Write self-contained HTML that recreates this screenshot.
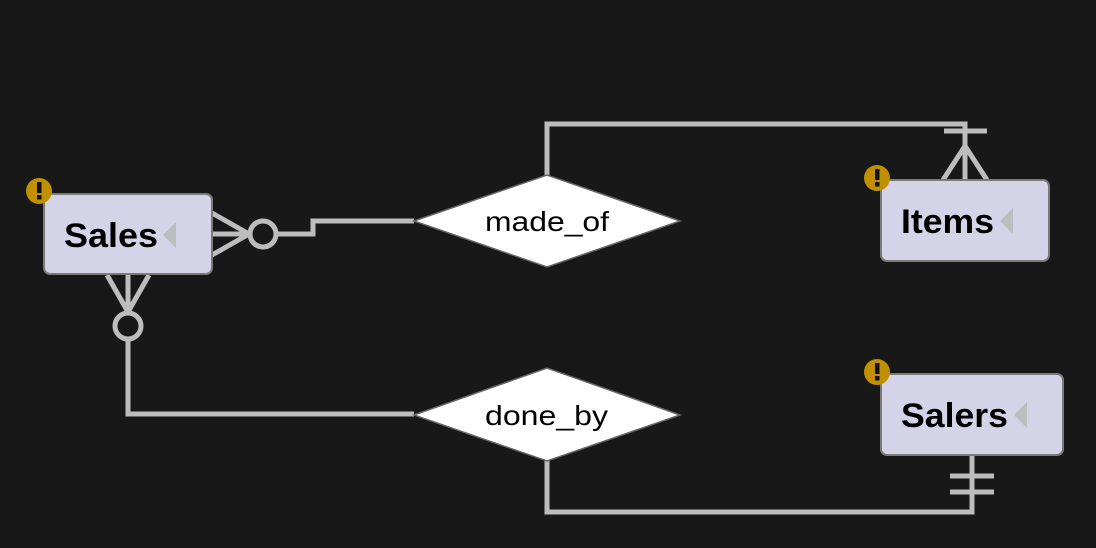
<!DOCTYPE html>
<html><head><style>body{margin:0;background:#181818}svg{display:block}</style></head><body>
<svg width="1096" height="548" xmlns="http://www.w3.org/2000/svg" font-family="Liberation Sans, sans-serif">
<rect width="1096" height="548" fill="#181818"/>
<g stroke="#bdbdbd" stroke-width="5" fill="none">
<polyline points="547,175 547,124 965,124 965,180"/>
<line x1="944" y1="131" x2="987" y2="131"/>
<line x1="965" y1="146" x2="943" y2="180"/><line x1="965" y1="146" x2="987" y2="180"/>
<polyline points="414,221 313,221 313,234 277,234"/>
<circle cx="263" cy="234" r="13"/>
<line x1="249" y1="234" x2="212" y2="213"/><line x1="249" y1="234" x2="212" y2="234"/><line x1="249" y1="234" x2="212" y2="255"/>
<polyline points="414,414 128,414 128,340"/>
<circle cx="128" cy="326" r="13"/>
<line x1="128" y1="312" x2="107" y2="275"/><line x1="128" y1="312" x2="128" y2="275"/><line x1="128" y1="312" x2="149" y2="275"/>
<polyline points="547,461 547,512 972,512 972,455"/>
<line x1="950" y1="476" x2="994" y2="476"/><line x1="950" y1="492" x2="994" y2="492"/>
</g>
<g fill="#d5d3e8" stroke="#7a7a7a" stroke-width="2">
<rect x="44" y="194" width="168" height="80" rx="6"/>
<rect x="881" y="180" width="168" height="81" rx="6"/>
<rect x="881" y="374" width="182" height="81" rx="6"/>
</g>
<g fill="#fff" stroke="#666" stroke-width="1.5">
<polygon points="414,221 547,175 680,221 547,267"/>
<polygon points="414,415 547,368 680,415 547,461"/>
</g>
<g font-size="34" fill="#000" font-weight="bold">
<text x="64" y="247" textLength="94" lengthAdjust="spacingAndGlyphs">Sales</text>
<text x="901" y="233" textLength="93" lengthAdjust="spacingAndGlyphs">Items</text>
<text x="901" y="427" textLength="107" lengthAdjust="spacingAndGlyphs">Salers</text>
</g>
<g fill="#bdbdbd">
<polygon points="176,222 163,235 176,248"/>
<polygon points="1013,208 1000,221 1013,234"/>
<polygon points="1027,402 1014,415 1027,428"/>
</g>
<g font-size="28" fill="#000">
<text x="485" y="231" textLength="124" lengthAdjust="spacingAndGlyphs">made_of</text>
<text x="485" y="425" textLength="123" lengthAdjust="spacingAndGlyphs">done_by</text>
</g>
<g fill="#c09000"><circle cx="39" cy="191" r="13"/><circle cx="877" cy="178" r="13"/><circle cx="877" cy="372" r="13"/></g>
<g fill="#111"><rect x="37" y="182" width="4.5" height="11"/><rect x="37" y="195" width="4.5" height="4.5"/>
<rect x="875" y="169" width="4.5" height="11"/><rect x="875" y="182" width="4.5" height="4.5"/>
<rect x="875" y="363" width="4.5" height="11"/><rect x="875" y="376" width="4.5" height="4.5"/></g>
</svg>
</body></html>
